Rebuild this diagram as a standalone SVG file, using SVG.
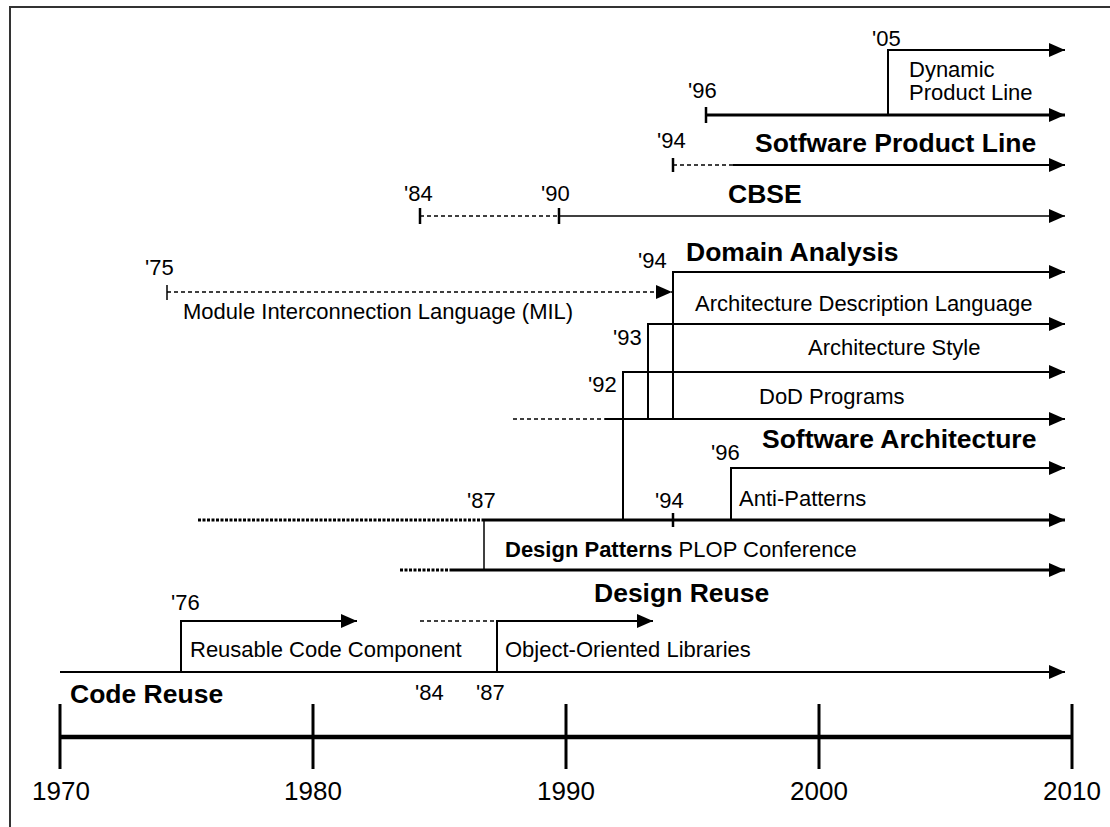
<svg xmlns="http://www.w3.org/2000/svg" width="1110" height="827" viewBox="0 0 1110 827">
<defs>
<marker id="ah" markerUnits="userSpaceOnUse" markerWidth="17" markerHeight="15" refX="16" refY="7" orient="auto" viewBox="0 0 17 15">
<path d="M0,0 L16,7 L0,14 z" fill="#000"/>
</marker>
<style>
.t{font-family:"Liberation Sans",Arial,sans-serif;font-size:22px;fill:#000}
.h{font-family:"Liberation Sans",Arial,sans-serif;font-size:26.5px;font-weight:bold;fill:#000}
.y{font-family:"Liberation Sans",Arial,sans-serif;font-size:26px;fill:#000;text-anchor:middle}
.b{font-weight:bold}
.s{stroke:#000;stroke-width:2;fill:none}
.sk{stroke:#000;stroke-width:3;fill:none}
.th{stroke:#000;stroke-width:1.5;fill:none}
.d{stroke:#000;stroke-width:1.5;fill:none;stroke-dasharray:4 3}
.dt{stroke:#000;stroke-width:3;fill:none;stroke-dasharray:3 1.5}
.tk{stroke:#000;stroke-width:2.5}
</style>
</defs>
<rect x="10" y="7" width="1110" height="830" fill="#fff" stroke="#333" stroke-width="2"/>

<g id="axis">
<line x1="60" y1="737" x2="1072" y2="737" stroke="#000" stroke-width="4.5"/>
<g stroke="#000" stroke-width="3">
<line x1="60" y1="704" x2="60" y2="769"/>
<line x1="313" y1="704" x2="313" y2="769"/>
<line x1="566" y1="704" x2="566" y2="769"/>
<line x1="819" y1="704" x2="819" y2="769"/>
<line x1="1072" y1="704" x2="1072" y2="769"/>
</g>
<text class="y" x="61" y="800">1970</text>
<text class="y" x="313" y="800">1980</text>
<text class="y" x="566" y="800">1990</text>
<text class="y" x="819" y="800">2000</text>
<text class="y" x="1072" y="800">2010</text>
</g>

<g id="connectors">
<!-- Dynamic Product Line -->
<polyline class="s" points="888,115 888,50 1065,50" marker-end="url(#ah)"/>
<!-- '96 product line -->
<line class="sk" x1="706" y1="115" x2="1065" y2="115" marker-end="url(#ah)"/>
<line class="tk" x1="706" y1="107" x2="706" y2="123"/>
<!-- Software product line -->
<line class="d" x1="673" y1="165" x2="733" y2="165"/>
<line class="s" x1="733" y1="165" x2="1065" y2="165" marker-end="url(#ah)"/>
<line class="tk" x1="673" y1="158" x2="673" y2="172"/>
<!-- CBSE -->
<line class="d" x1="420" y1="216" x2="559" y2="216"/>
<line class="th" x1="559" y1="216" x2="1065" y2="216" marker-end="url(#ah)"/>
<line class="tk" x1="420" y1="208" x2="420" y2="224"/>
<line class="tk" x1="559" y1="208" x2="559" y2="224"/>
<!-- Domain analysis -->
<polyline class="s" points="673,419 673,272 1065,272" marker-end="url(#ah)"/>
<!-- MIL -->
<line class="d" x1="167" y1="292" x2="672" y2="292" marker-end="url(#ah)"/>
<line class="th" x1="167" y1="285" x2="167" y2="300"/>
<!-- ADL -->
<polyline class="s" points="648,419 648,324 1065,324" marker-end="url(#ah)"/>
<!-- Architecture style -->
<polyline class="s" points="623,520 623,372 1065,372" marker-end="url(#ah)"/>
<!-- DoD -->
<line class="d" x1="513" y1="419" x2="605" y2="419"/>
<line class="s" x1="605" y1="419" x2="1065" y2="419" marker-end="url(#ah)"/>
<!-- Anti-patterns -->
<polyline class="s" points="731,520 731,468 1065,468" marker-end="url(#ah)"/>
<!-- Design patterns -->
<line class="dt" x1="198" y1="520" x2="484" y2="520"/>
<line class="sk" x1="484" y1="520" x2="1065" y2="520" marker-end="url(#ah)"/>
<line class="tk" x1="673" y1="513" x2="673" y2="527"/>
<polyline class="th" points="484,570 484,520"/>
<!-- Design reuse -->
<line class="dt" x1="400" y1="570" x2="450" y2="570"/>
<line class="sk" x1="450" y1="570" x2="1065" y2="570" marker-end="url(#ah)"/>
<!-- Reusable code component -->
<polyline class="s" points="181,672 181,621 357,621" marker-end="url(#ah)"/>
<!-- OO libraries -->
<line class="d" x1="420" y1="621" x2="497" y2="621"/>
<polyline class="s" points="497,672 497,621 653,621" marker-end="url(#ah)"/>
<!-- Code reuse -->
<line class="s" x1="60" y1="672" x2="1065" y2="672" marker-end="url(#ah)"/>
</g>

<g id="dynamic-product-line">
<text class="t" x="872" y="46">'05</text>
<text class="t" x="909" y="77">Dynamic</text>
<text class="t" x="909" y="100">Product Line</text>
</g>
<g id="software-product-line">
<text class="t" x="688" y="98">'96</text>
<text class="t" x="657" y="148">'94</text>
<text class="h" x="755" y="152">Sotfware Product Line</text>
</g>
<g id="cbse">
<text class="t" x="404" y="201">'84</text>
<text class="t" x="541" y="201">'90</text>
<text class="h" x="728" y="203">CBSE</text>
</g>
<g id="domain-analysis">
<text class="t" x="638" y="268">'94</text>
<text class="h" x="686" y="261">Domain Analysis</text>
</g>
<g id="mil">
<text class="t" x="145" y="275">'75</text>
<text class="t" x="183" y="319">Module Interconnection Language (MIL)</text>
</g>
<g id="adl">
<text class="t" x="695" y="311">Architecture Description Language</text>
<text class="t" x="613" y="345">'93</text>
</g>
<g id="architecture-style">
<text class="t" x="808" y="355">Architecture Style</text>
<text class="t" x="588" y="392">'92</text>
</g>
<g id="dod-programs">
<text class="t" x="759" y="404">DoD Programs</text>
</g>
<g id="software-architecture">
<text class="h" x="762" y="448">Software Architecture</text>
<text class="t" x="711" y="460">'96</text>
<text class="t" x="739" y="506">Anti-Patterns</text>
</g>
<g id="design-patterns">
<text class="t" x="467" y="508">'87</text>
<text class="t" x="655" y="508">'94</text>
<text class="t" x="505" y="557"><tspan class="b">Design Patterns</tspan> PLOP Conference</text>
</g>
<g id="design-reuse">
<text class="h" x="594" y="602">Design Reuse</text>
</g>
<g id="reusable-code-component">
<text class="t" x="171" y="610">'76</text>
<text class="t" x="190" y="657">Reusable Code Component</text>
</g>
<g id="oo-libraries">
<text class="t" x="505" y="657">Object-Oriented Libraries</text>
<text class="t" x="415" y="700">'84</text>
<text class="t" x="476" y="700">'87</text>
</g>
<g id="code-reuse">
<text class="h" x="70" y="703">Code Reuse</text>
</g>
</svg>
